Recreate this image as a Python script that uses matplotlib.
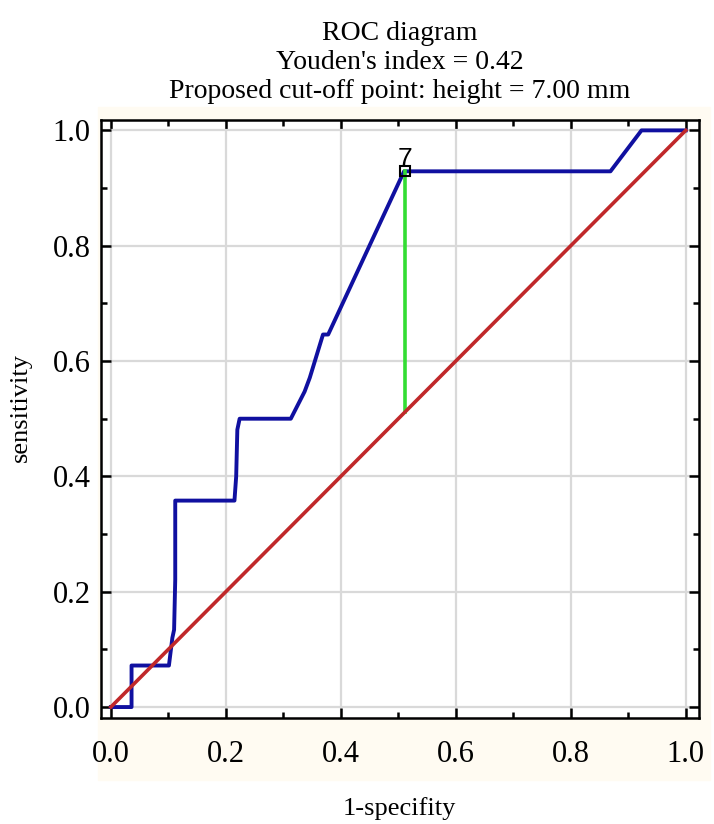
import matplotlib.pyplot as plt
from matplotlib.patches import Rectangle
from matplotlib.ticker import MultipleLocator, FormatStrFormatter

# ROC curve (1-specificity, sensitivity)
fpr = [0.000, 0.036, 0.036, 0.101, 0.107, 0.110, 0.112, 0.112, 0.215, 0.218, 0.220,
       0.224, 0.313, 0.337, 0.346, 0.369, 0.378, 0.510, 0.869, 0.923, 1.000]
tpr = [0.000, 0.000, 0.072, 0.072, 0.120, 0.134, 0.221, 0.358, 0.358, 0.400, 0.481,
       0.500, 0.500, 0.547, 0.571, 0.646, 0.646, 0.929, 0.929, 1.000, 1.000]
chance = [0.0, 1.0]

# proposed cut-off
cut_fpr = 0.511
cut_tpr = 0.929
cut_label = '7'
youden = 0.42
cut_height = 7.00

plt.rcParams['font.family'] = ['Liberation Serif', 'DejaVu Serif']

fig = plt.figure(figsize=(7.14, 8.24), dpi=100)
W, H = 714, 824

# faint cream panel behind the plot area
fig.patches.append(Rectangle((98 / W, 1 - 780 / H), (710 - 98) / W, (780 - 107) / H,
                             transform=fig.transFigure, color='#fffbf2', zorder=-1))

ax = fig.add_axes([100.5 / W, 1 - 718 / H, 598.5 / W, 598 / H])
ax.set_facecolor('white')

ax.plot(fpr, tpr, color='#1010a0', lw=2.8, zorder=3)
ax.plot(chance, chance, color='#c0282a', lw=2.6, zorder=4)
ax.plot([cut_fpr, cut_fpr], [cut_fpr, cut_tpr], color='#33dd33', lw=2.6, zorder=3.5)
ax.plot([cut_fpr], [cut_tpr], marker='s', ms=7.5, mfc='none', mec='black', mew=1.5, zorder=5)
ax.annotate(cut_label, (cut_fpr, cut_tpr), xytext=(0, 0), textcoords='offset points',
            ha='center', va='bottom', fontsize=19, family='Liberation Sans', zorder=6)

ax.set_xlim(-0.018, 1.023)
ax.set_ylim(-0.019, 1.018)
ax.xaxis.set_major_locator(MultipleLocator(0.2))
ax.xaxis.set_minor_locator(MultipleLocator(0.1))
ax.yaxis.set_major_locator(MultipleLocator(0.2))
ax.yaxis.set_minor_locator(MultipleLocator(0.1))
ax.xaxis.set_major_formatter(FormatStrFormatter('%.1f'))
ax.yaxis.set_major_formatter(FormatStrFormatter('%.1f'))
ax.tick_params(which='both', direction='in', top=True, right=True, width=1.8, labelsize=22)
ax.tick_params(which='major', length=7)
ax.tick_params(which='minor', length=4)
ax.tick_params(axis='x', pad=16)
ax.tick_params(axis='y', pad=7)
for s in ax.spines.values():
    s.set_linewidth(1.8)

ax.grid(True, which='major', color='#d9d9d9', lw=1.6)
ax.set_axisbelow(True)

ax.set_title("ROC diagram\nYouden's index = %.2f\nProposed cut-off point: height = %.2f mm"
             % (youden, cut_height), fontsize=20, pad=16)
ax.set_xlabel('1-specifity', fontsize=19, labelpad=20)
ax.set_ylabel('sensitivity', fontsize=19, labelpad=12)
ax.yaxis.set_label_coords(-0.115, 0.52)

fig.savefig('out.png', dpi=100)
